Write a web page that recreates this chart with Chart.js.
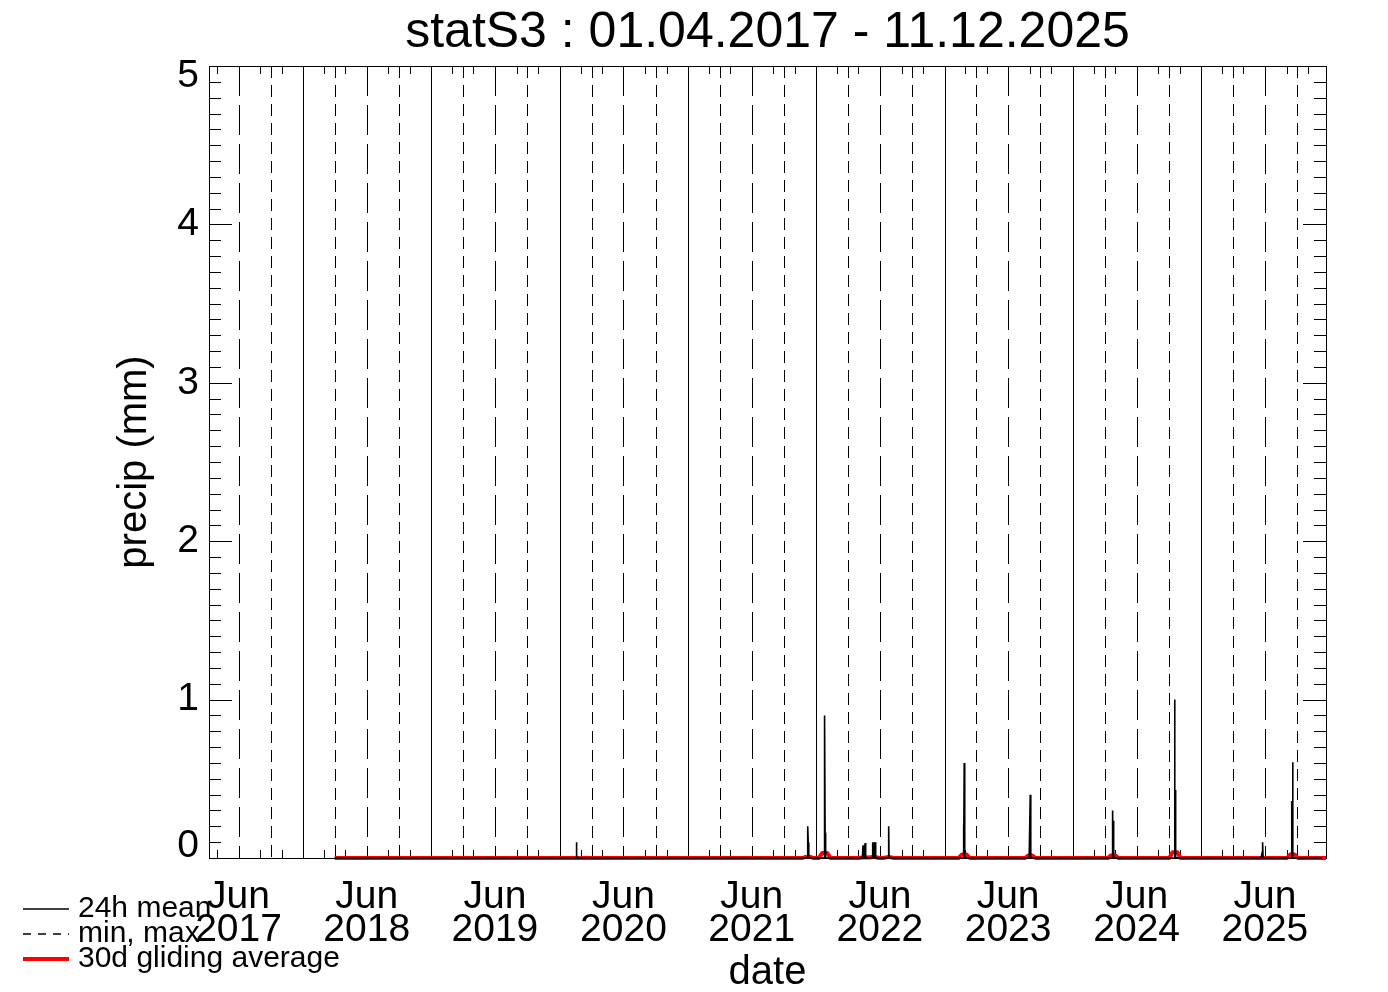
<!DOCTYPE html>
<html>
<head>
<meta charset="utf-8">
<title>statS3 precip</title>
<script src="https://cdn.jsdelivr.net/npm/chart.js@4/dist/chart.umd.min.js"></script>
<style>
  html, body { margin: 0; padding: 0; background: #fff; }
  canvas { display: block; }
</style>
</head>
<body>
<canvas id="precipChart" width="1388" height="992"></canvas>
<script>
const FONT = "'Liberation Sans', Arial, Helvetica, sans-serif";
const DAY = 86400000;
const toMs = (s) => Date.parse(s + 'T00:00:00Z');

// period of the record and range of the time axis
const dataStart = '2018-04-01';
const dataEnd = '2025-12-11';
const axisStart = '2017-04-08';
const axisEnd = '2025-12-22';

// x labels sit on 1 July of each year
const tickYears = [2017, 2018, 2019, 2020, 2021, 2022, 2023, 2024, 2025];
const tickMonthLabel = 'Jun';
const yTicks = [0, 1, 2, 3, 4, 5];

// days with precipitation (24h mean, mm); all other days are 0
const rainDays = [
  '2020-02-18', '2021-12-08', '2021-12-09', '2022-01-25', '2022-01-26',
  '2022-05-14', '2022-05-20', '2022-06-11', '2022-06-14', '2022-06-18',
  '2022-07-26', '2023-02-24', '2023-02-26', '2023-09-02', '2024-04-24',
  '2024-04-26', '2024-10-17', '2024-10-19', '2025-06-23', '2025-06-25',
  '2025-09-16', '2025-09-18'
];
const rainValues = [
  0.10, 0.20, 0.10, 0.90, 0.16,
  0.08, 0.095, 0.10, 0.10, 0.10,
  0.20, 0.21, 0.60, 0.40, 0.30,
  0.235, 1.00, 0.43, 0.03, 0.10,
  0.36, 0.605
];

// 30d gliding average, read at its corners
const avgDates = [
  '2018-04-01',
  '2021-11-23', '2021-12-01', '2021-12-15', '2021-12-23',
  '2022-01-08', '2022-01-18', '2022-02-01', '2022-02-11',
  '2022-05-02', '2022-05-17', '2022-06-01', '2022-06-14', '2022-06-29',
  '2022-07-11', '2022-07-26', '2022-08-10',
  '2023-02-10', '2023-02-19', '2023-03-05', '2023-03-14',
  '2023-08-18', '2023-08-27', '2023-09-08', '2023-09-17',
  '2024-04-10', '2024-04-18', '2024-05-02', '2024-05-10',
  '2024-10-02', '2024-10-11', '2024-10-25', '2024-11-03',
  '2025-09-02', '2025-09-11', '2025-09-24', '2025-10-03',
  '2025-12-22'
];
const avgValues = [
  0,
  0, 0.007, 0.007, 0,
  0, 0.032, 0.032, 0,
  0, 0.005, 0.003, 0.008, 0,
  0, 0.007, 0,
  0, 0.022, 0.022, 0,
  0, 0.016, 0.016, 0,
  0, 0.016, 0.016, 0,
  0, 0.036, 0.036, 0,
  0, 0.022, 0.022, 0,
  0
];

const rainByDay = new Map(rainDays.map((d, i) => [d, rainValues[i]]));
const meanSeries = [];
for (let t = toMs(dataStart); t <= toMs(dataEnd); t += DAY) {
  const key = new Date(t).toISOString().slice(0, 10);
  meanSeries.push({ x: t, y: rainByDay.get(key) || 0 });
}
const minMaxSeries = [{ x: toMs(dataStart), y: 0 }, { x: toMs(dataEnd), y: 0 }];
const avgSeries = avgDates.map((d, i) => ({ x: toMs(d), y: avgValues[i] }));

// box, reference lines and inward ticks like the IDL plot
const frameAndGrid = {
  id: 'frameAndGrid',
  beforeDatasetsDraw(chart) {
    const { ctx, chartArea: a, scales: { x, y } } = chart;
    ctx.save();
    ctx.strokeStyle = '#000';
    ctx.lineWidth = 1;
    const line = (x0, y0, x1, y1) => {
      ctx.beginPath(); ctx.moveTo(x0, y0); ctx.lineTo(x1, y1); ctx.stroke();
    };
    const styles = [[0, []], [3, [12, 7]], [6, [30, 9]], [9, [12, 7]]];
    tickYears.forEach(yr => {
      styles.forEach(([m, dash]) => {
        const px = Math.round(x.getPixelForValue(Date.UTC(yr, m, 1))) + 0.5;
        if (px <= a.left + 1 || px >= a.right - 1) return;
        ctx.setLineDash(dash);
        line(px, a.top, px, a.bottom);
      });
    });
    ctx.setLineDash([]);

    // x ticks every two months
    tickYears.concat([2026]).forEach(yr => {
      [0, 2, 4, 6, 8, 10].forEach(m => {
        const px = Math.round(x.getPixelForValue(Date.UTC(yr, m, 1))) + 0.5;
        if (px <= a.left + 1 || px >= a.right - 1) return;
        line(px, a.top, px, a.top + 8);
        line(px, a.bottom, px, a.bottom - 8);
      });
    });

    // y ticks: major at labels, minor every 0.1
    yTicks.forEach((v, i) => {
      const py = Math.round(y.getPixelForValue(v)) + 0.5;
      line(a.left, py, a.left + 23, py);
      line(a.right, py, a.right - 23, py);
      if (i === yTicks.length - 1) return;
      for (let k = 1; k < 10; k++) {
        const pm = Math.round(y.getPixelForValue(v + k / 10)) + 0.5;
        line(a.left, pm, a.left + 12, pm);
        line(a.right, pm, a.right - 12, pm);
      }
    });

    ctx.strokeRect(a.left + 0.5, a.top + 0.5, a.right - a.left, a.bottom - a.top);
    ctx.restore();
  }
};

// legend in the lower left corner, drawn from the datasets
const cornerLegend = {
  id: 'cornerLegend',
  afterDraw(chart) {
    const { ctx } = chart;
    ctx.save();
    ctx.font = `30px ${FONT}`;
    ctx.fillStyle = '#000';
    chart.data.datasets.forEach((ds, i) => {
      const ly = 909 + i * 25;
      ctx.strokeStyle = ds.borderColor;
      ctx.lineWidth = ds.borderWidth;
      ctx.setLineDash(ds.borderDash || []);
      ctx.beginPath(); ctx.moveTo(23, ly); ctx.lineTo(69, ly); ctx.stroke();
      ctx.fillText(ds.label, 78, ly + 8);
    });
    ctx.restore();
  }
};

Chart.defaults.color = '#000';
Chart.defaults.font.family = FONT;

new Chart(document.getElementById('precipChart'), {
  type: 'line',
  data: {
    datasets: [
      {
        label: '24h mean',
        data: meanSeries,
        borderColor: '#000',
        borderWidth: 1.6,
        pointRadius: 0,
        clip: false
      },
      {
        label: 'min, max',
        data: minMaxSeries,
        borderColor: '#000',
        borderWidth: 1.6,
        borderDash: [8, 7],
        pointRadius: 0,
        clip: false
      },
      {
        label: '30d gliding average',
        data: avgSeries,
        borderColor: '#ff0000',
        borderWidth: 4,
        borderJoinStyle: 'round',
        pointRadius: 0,
        clip: false
      }
    ]
  },
  options: {
    responsive: false,
    animation: false,
    events: [],
    layout: { padding: { left: 0, right: 62, top: 0, bottom: 0 } },
    plugins: {
      legend: { display: false },
      tooltip: { enabled: false },
      title: {
        display: true,
        text: 'statS3 : 01.04.2017 - 11.12.2025',
        fullSize: false,
        font: { size: 50, weight: 'normal', lineHeight: 1.2 },
        padding: { top: 3, bottom: 3 }
      }
    },
    scales: {
      x: {
        type: 'linear',
        bounds: 'data',
        min: toMs(axisStart),
        max: toMs(axisEnd),
        afterBuildTicks: (scale) => {
          scale.ticks = tickYears.map(yr => ({ value: Date.UTC(yr, 6, 1) }));
        },
        afterFit: (scale) => { scale.height = 134; },
        grid: { display: false, drawTicks: false },
        border: { display: false },
        ticks: {
          autoSkip: false,
          maxRotation: 0,
          minRotation: 0,
          padding: 23,
          font: { size: 39, lineHeight: 0.846 },
          callback: (value, index) => [tickMonthLabel, String(tickYears[index])]
        },
        title: {
          display: true,
          text: 'date',
          font: { size: 40, lineHeight: 0.95 },
          padding: { top: 0, bottom: 0 }
        }
      },
      y: {
        type: 'linear',
        min: 0,
        max: 5,
        afterBuildTicks: (scale) => {
          scale.ticks = yTicks.map(v => ({ value: v }));
        },
        afterFit: (scale) => { scale.width = 209; },
        grid: { display: false, drawTicks: false },
        border: { display: false },
        ticks: {
          padding: 10,
          font: (c) => ({
            size: 39,
            lineHeight: c.tick && c.tick.value === 0 ? 0.62 : (c.tick && c.tick.value === 5 ? 0.5 : 1.2)
          }),
          // end labels are nudged inside the box, as in the original
          callback: (v) => v === 0 ? ['0', ''] : (v === 5 ? ['', '5'] : String(v))
        },
        title: {
          display: true,
          text: 'precip (mm)',
          font: { size: 40, lineHeight: 1.2 },
          padding: { top: 111, bottom: 0 }
        }
      }
    }
  },
  plugins: [frameAndGrid, cornerLegend]
});
</script>
</body>
</html>
